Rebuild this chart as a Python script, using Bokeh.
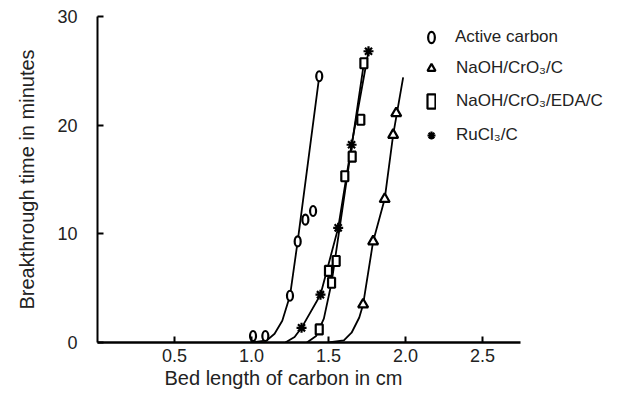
from bokeh.plotting import figure
from bokeh.models import Range1d, FixedTicker, Legend, LegendItem, Title
from bokeh.embed import file_html
from bokeh.resources import INLINE

# ---- data ----
x_ticks = [0.5, 1.0, 1.5, 2.0, 2.5]
x_tick_labels = ["0.5", "1.0", "1.5", "2.0", "2.5"]
y_ticks = [0, 10, 20, 30]
y_tick_labels = ["0", "10", "20", "30"]
x_axis_extent = (0, 2.75)
y_axis_extent = (0, 30)

series_names = ["Active carbon", "NaOH/CrO\u2083/C", "NaOH/CrO\u2083/EDA/C", "RuCl\u2083/C"]

# Active carbon
ac_x = [1.01, 1.09, 1.25, 1.30, 1.35, 1.40, 1.44]
ac_y = [0.6, 0.6, 4.3, 9.3, 11.3, 12.1, 24.5]
ac_curve_x = [1.00, 1.10, 1.15, 1.20, 1.25, 1.30, 1.44]
ac_curve_y = [0.0, 0.2, 0.8, 2.0, 4.3, 9.3, 24.5]

# NaOH/CrO3/C
nc_x = [1.725, 1.79, 1.865, 1.92, 1.94]
nc_y = [3.5, 9.3, 13.2, 19.1, 21.1]
nc_curve_x = [1.50, 1.60, 1.65, 1.70, 1.725, 1.79, 1.865, 1.92, 1.985]
nc_curve_y = [0.0, 0.2, 0.9, 2.3, 3.5, 9.3, 13.2, 19.1, 24.4]

# NaOH/CrO3/EDA/C
eda_x = [1.44, 1.50, 1.52, 1.55, 1.606, 1.654, 1.71, 1.73]
eda_y = [1.2, 6.6, 5.5, 7.5, 15.3, 17.1, 20.5, 25.7]
eda_curve_x = [1.36, 1.42, 1.47, 1.52, 1.73]
eda_curve_y = [0.0, 0.6, 2.2, 5.5, 25.7]

# RuCl3/C
ru_x = [1.325, 1.448, 1.563, 1.65, 1.76]
ru_y = [1.35, 4.4, 10.55, 18.2, 26.8]
ru_curve_x = [1.22, 1.28, 1.325, 1.448, 1.563, 1.65, 1.76]
ru_curve_y = [0.0, 0.5, 1.35, 4.4, 10.55, 18.2, 26.8]

FONT = "Liberation Sans"
TXT = "#222222"

p = figure(width=605, height=398, output_backend="svg", toolbar_location=None,
           x_range=Range1d(0, 3.299), y_range=Range1d(0, 30),
           min_border_left=97, min_border_right=0, min_border_top=16, min_border_bottom=56)
p.outline_line_color = None
p.xgrid.visible = False
p.ygrid.visible = False

for ax in (p.xaxis[0], p.yaxis[0]):
    ax.axis_line_color = "black"
    ax.major_tick_in = 6
    ax.major_tick_out = 0
    ax.minor_tick_line_color = None
    ax.major_tick_line_width = 2
    ax.major_label_text_font = FONT
    ax.major_label_text_font_size = "18px"
    ax.major_label_text_color = TXT

p.xaxis[0].bounds = x_axis_extent
p.yaxis[0].bounds = y_axis_extent
p.xaxis[0].axis_line_width = 2.5
p.yaxis[0].axis_line_width = 2
p.xaxis[0].ticker = FixedTicker(ticks=x_ticks)
p.xaxis[0].major_label_overrides = dict(zip(x_ticks, x_tick_labels))
p.yaxis[0].ticker = FixedTicker(ticks=y_ticks)
p.yaxis[0].major_label_overrides = dict(zip(y_ticks, y_tick_labels))
p.xaxis[0].major_label_standoff = 6
p.yaxis[0].major_label_standoff = 20

p.yaxis[0].axis_label = "Breakthrough time in minutes"
p.yaxis[0].axis_label_text_font = FONT
p.yaxis[0].axis_label_text_font_size = "20px"
p.yaxis[0].axis_label_text_font_style = "normal"
p.yaxis[0].axis_label_text_color = TXT
p.yaxis[0].axis_label_standoff = 16

p.add_layout(Title(text="Bed length of carbon in cm", align="left", offset=67,
                   text_font=FONT, text_font_size="20px", text_font_style="normal",
                   text_color=TXT, standoff=0), "below")

LW = 1.8
p.line(ac_curve_x, ac_curve_y, line_color="black", line_width=LW)
p.line(nc_curve_x, nc_curve_y, line_color="black", line_width=LW)
p.line(eda_curve_x, eda_curve_y, line_color="black", line_width=LW)
p.line(ru_curve_x, ru_curve_y, line_color="black", line_width=LW)

r_ac = p.ellipse(ac_x, ac_y, width=6, height=10, width_units="screen", height_units="screen",
                 fill_color="white", line_color="black", line_width=2.2)
r_nc = p.scatter(nc_x, nc_y, marker="triangle", size=10,
                 fill_color="white", line_color="black", line_width=2.2)
r_eda = p.rect(eda_x, eda_y, width=7, height=10, width_units="screen", height_units="screen",
               fill_color="white", line_color="black", line_width=2.2)
r_ru = p.scatter(ru_x, ru_y, marker="asterisk", size=10,
                 line_color="black", line_width=2.2)


def add_legend(label, renderer, loc, gw, gh, standoff):
    lg = Legend(items=[LegendItem(label=label, renderers=[renderer])],
                location=loc, orientation="vertical",
                glyph_width=gw, glyph_height=gh, label_standoff=standoff,
                label_height=20, padding=0, margin=0, border_line_color=None,
                background_fill_alpha=0, label_text_font=FONT,
                label_text_font_size="17px", label_text_color=TXT)
    p.add_layout(lg, "center")


# one legend box per entry so that each symbol gets a suitable size
add_legend(series_names[0], r_ac, (327, 293), 14, 24, 17)
add_legend(series_names[1], r_nc, (323, 264), 22, 20, 14)
add_legend(series_names[2], r_eda, (329, 231), 10, 18, 20)
add_legend(series_names[3], r_ru, (322, 197), 24, 20, 13)

open("out.html", "w").write(file_html(p, INLINE))
